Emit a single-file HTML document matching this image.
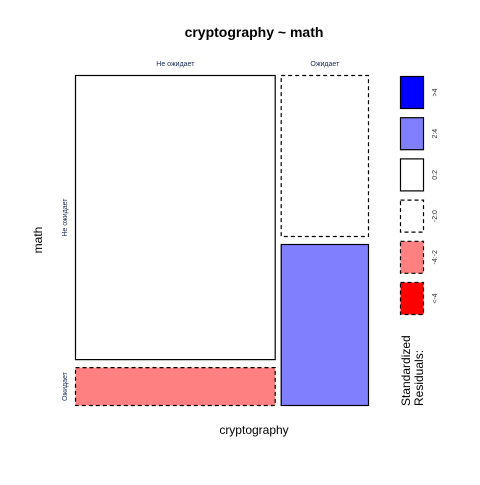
<!DOCTYPE html>
<html><head><meta charset="utf-8"><style>body{margin:0;background:#fff}svg{font-family:"Liberation Sans",sans-serif}</style></head>
<body>
<svg id="c" width="480" height="480">
<text x="254" y="37" text-anchor="middle" font-size="14" font-weight="bold">cryptography ~ math</text>
<text x="254" y="434" text-anchor="middle" font-size="12">cryptography</text>
<text transform="translate(42,240) rotate(-90)" text-anchor="middle" font-size="12">math</text>
<g id="cells"></g>
<g id="legend"></g>
<text transform="translate(410,406) rotate(-90)" font-size="12"><tspan x="0" dy="0">Standardized</tspan><tspan x="0" dy="13">Residuals:</tspan></text>
</svg>
<script>
const colCats = ["Не ожидает","Ожидает"];
const rowCats = ["Не ожидает","Ожидает"];
const counts0 = [176, 24];
const counts1 = [44, 44];
const residClass0 = [2, 4];
const residClass1 = [3, 1];
const legendLabels = [">4","2:4","0:2","-2:0","-4:-2","<-4"];
const fills = ["#0000ff","#8080ff","#ffffff","#ffffff","#ff8080","#ff0000"];
const dashed = [false,false,false,true,true,true];
const NS="http://www.w3.org/2000/svg";
const cells=document.getElementById('cells');
const counts=[counts0,counts1], rc=[residClass0,residClass1];
const X0=75,Y0=75,W=294,H=331,G=5,GV=7;
const totals=counts.map(c=>c.reduce((a,b)=>a+b,0));
const grand=totals.reduce((a,b)=>a+b,0);
let x=X0;
counts.forEach((col,i)=>{
  const w=(W-G)*totals[i]/grand;
  const lab=document.createElementNS(NS,'text');
  lab.setAttribute('x',x+w/2);lab.setAttribute('y',66);lab.setAttribute('text-anchor','middle');lab.setAttribute('font-size','7');lab.setAttribute('fill','#1a2a55');
  lab.textContent=colCats[i];
  
  
  cells.appendChild(lab);
  let y=Y0;
  col.forEach((v,j)=>{
    const h=(H-GV)*v/totals[i];
    const r=document.createElementNS(NS,'rect');
    const k=rc[i][j];
    r.setAttribute('x',x+0.5);r.setAttribute('y',y+0.5);r.setAttribute('width',w-1);r.setAttribute('height',h-1);
    r.setAttribute('fill',fills[k]);r.setAttribute('stroke','#000');r.setAttribute('stroke-width','1.2');
    if(dashed[k])r.setAttribute('stroke-dasharray','4,3');
    
    
    cells.appendChild(r);
    if(i===0){
      const t=document.createElementNS(NS,'text');
      t.setAttribute('transform',`translate(67,${y+h/2}) rotate(-90)`);t.setAttribute('text-anchor','middle');t.setAttribute('font-size','7');t.setAttribute('fill','#1a2a55');
      t.textContent=rowCats[j];
      
      
      cells.appendChild(t);
    }
    y+=h+GV;
  });
  x+=w+G;
});
const lg=document.getElementById('legend');
legendLabels.forEach((l,i)=>{
  const y=76+i*41.2;
  const r=document.createElementNS(NS,'rect');
  r.setAttribute('x',400.5);r.setAttribute('y',y+0.5);r.setAttribute('width',23);r.setAttribute('height',32);
  r.setAttribute('fill',fills[i]);r.setAttribute('stroke','#000');r.setAttribute('stroke-width','1.2');
  if(dashed[i])r.setAttribute('stroke-dasharray','4,3');
  
  
  lg.appendChild(r);
  const t=document.createElementNS(NS,'text');
  t.setAttribute('transform',`translate(437,${y+16.5}) rotate(-90)`);t.setAttribute('text-anchor','middle');t.setAttribute('font-size','7');t.setAttribute('fill','#333');
  t.textContent=l;
  
  
  lg.appendChild(t);
});
</script>
</body></html>
